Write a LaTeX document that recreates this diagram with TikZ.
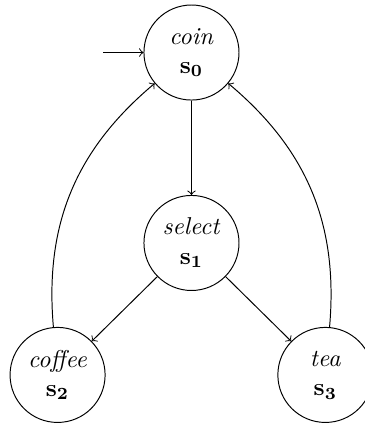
\documentclass[tikz,border=0pt]{standalone}
\usepackage{amssymb}
\usepackage{mathtools}
\usetikzlibrary{arrows}

\begin{document}
\begin{tikzpicture}[etat/.style={draw, circle, align=center, minimum size=1.37cm, inner sep=0pt}]
		\useasboundingbox (-2.76,0.757) rectangle (2.50,-5.34);
		%Etats de l'automate
		\node[etat] (S0) at (0,0) {\textit{coin}\\$\mathbf{s_0}$};
		\node[etat] (S1) at (0,-2.745) {\textit{select}\\$\mathbf{s_1}$};
		\node[etat] (S2) at (-1.93,-4.647) {\textit{coffee}\\$\mathbf{s_2}$};
		\node[etat] (S3) at (1.93,-4.647) {\textit{tea}\\$\mathbf{s_3}$};
		\coordinate (init) at (-1.275,0);
		%Transitions
		\draw[->] (init) -- (S0);
		\draw[->] (S0) -- (S1);
		\draw[->] (S1) -- (S2);
		\draw[->] (S1) -- (S3);
		\draw[->] (S2) to[out=95, in=220] (S0);
		\draw[->] (S3) to[out=85, in=320] (S0);
	\end{tikzpicture}
\end{document}
